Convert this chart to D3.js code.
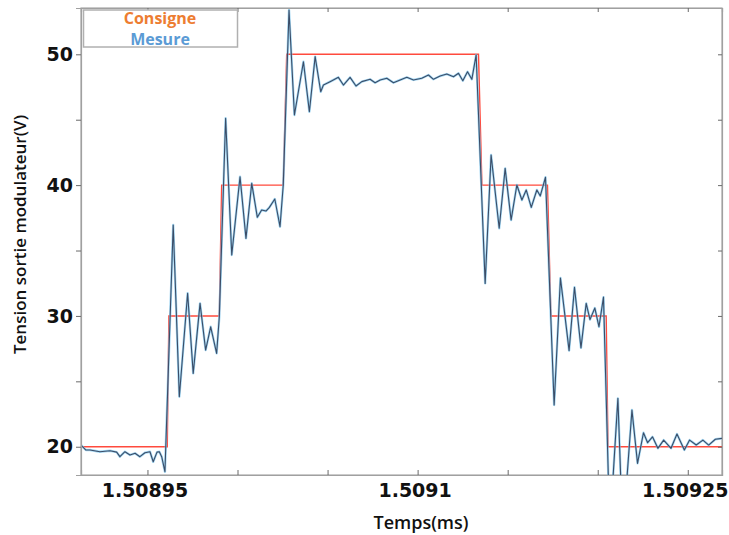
<!DOCTYPE html>
<html>
<head>
<meta charset="utf-8">
<script src="https://cdn.jsdelivr.net/npm/d3@7"></script>
<style>
  body { margin: 0; background: #fff; }
  svg { display: block; }
  .tick text { font-family: "DejaVu Sans", sans-serif; font-weight: bold; font-size: 19px; fill: #111; }
</style>
</head>
<body>
<div id="chart"></div>
<script>
// Consigne (setpoint) — step edges, time in ms
const consigneT = [1.5089131, 1.5089610, 1.5089619, 1.5089899, 1.5089912, 1.5090254, 1.5090273,
                   1.5091338, 1.5091357, 1.5091721, 1.5091740, 1.5092047, 1.5092057, 1.5092690];
const consigneV = [20, 20, 30, 30, 40, 40, 50, 50, 40, 40, 30, 30, 20, 20];

// Mesure (measured output)
const mesureT = [
  1.5089131, 1.5089158, 1.5089181, 1.5089236, 1.5089292, 1.5089329, 1.5089347, 1.5089375,
  1.5089403, 1.5089431, 1.5089458, 1.5089486, 1.5089514, 1.5089532, 1.5089553, 1.5089566,
  1.5089579, 1.5089597, 1.5089643, 1.5089677, 1.5089723, 1.5089754, 1.5089792, 1.5089823,
  1.5089851, 1.5089884, 1.5089899, 1.5089934, 1.5089968, 1.5090014, 1.5090047, 1.5090079,
  1.5090110, 1.5090134, 1.5090158, 1.5090177, 1.5090207, 1.5090236, 1.5090254, 1.5090286,
  1.5090316, 1.5090366, 1.5090399, 1.5090431, 1.5090462, 1.5090477, 1.5090514, 1.5090560,
  1.5090588, 1.5090625, 1.5090658, 1.5090690, 1.5090736, 1.5090764, 1.5090792, 1.5090829,
  1.5090866, 1.5090903, 1.5090940, 1.5090977, 1.5091023, 1.5091060, 1.5091088, 1.5091125,
  1.5091162, 1.5091199, 1.5091227, 1.5091251, 1.5091277, 1.5091301, 1.5091325, 1.5091375,
  1.5091408, 1.5091453, 1.5091486, 1.5091519, 1.5091551, 1.5091579, 1.5091603, 1.5091631,
  1.5091662, 1.5091681, 1.5091710, 1.5091758, 1.5091793, 1.5091841, 1.5091871, 1.5091907,
  1.5091936, 1.5091957, 1.5091984, 1.5092007, 1.5092032, 1.5092067, 1.5092112, 1.5092139,
  1.5092190, 1.5092221, 1.5092254, 1.5092277, 1.5092304, 1.5092334, 1.5092366, 1.5092407,
  1.5092440, 1.5092481, 1.5092510, 1.5092547, 1.5092584, 1.5092616, 1.5092653, 1.5092690
];
const mesureV = [
  20.13, 19.75, 19.75, 19.62, 19.69, 19.59, 19.24, 19.62,
  19.37, 19.50, 19.24, 19.54, 19.62, 18.85, 19.59, 19.62,
  19.24, 18.09, 36.95, 23.82, 31.73, 25.61, 30.96, 27.39,
  29.17, 27.14, 29.94, 45.11, 34.66, 40.64, 35.93, 40.14,
  37.54, 38.10, 38.02, 38.30, 38.94, 36.82, 40.01, 53.39,
  45.36, 49.43, 45.61, 49.82, 47.14, 47.65, 47.91, 48.24,
  47.65, 48.24, 47.58, 47.91, 48.09, 47.83, 48.04, 48.17,
  47.83, 48.04, 48.24, 48.04, 48.17, 48.42, 48.09, 48.34,
  48.49, 48.29, 48.55, 47.98, 48.67, 48.09, 49.95, 32.49,
  42.30, 36.70, 41.28, 37.33, 40.01, 38.86, 39.63, 38.30,
  39.63, 39.17, 40.60, 23.19, 32.90, 27.35, 32.19, 27.56,
  30.96, 29.72, 30.60, 29.17, 31.44, 13.60, 23.70, 13.25,
  22.81, 18.73, 21.07, 20.31, 20.76, 19.88, 20.51, 19.88,
  20.97, 19.75, 20.51, 20.13, 20.51, 20.13, 20.57, 20.64
];

const xTicks = [1.50895, 1.509, 1.50905, 1.5091, 1.50915, 1.5092, 1.50925];
const xTickLabels = { 1.50895: '1.50895', 1.5091: '1.5091', 1.50925: '1.50925' };
const yTicks = [20, 25, 30, 35, 40, 45, 50];
const yTickLabels = { 20: '20', 30: '30', 40: '40', 50: '50' };
const seriesNames = ['Consigne', 'Mesure'];
const seriesColors = ['#ed7d31', '#5b9bd5'];

const W = 729, H = 535;
const L = 81, R = 722, T = 8, B = 475;

const svg = d3.select('#chart').append('svg').attr('width', W).attr('height', H);

const x = d3.scaleLinear().domain([1.5089131, 1.5092690]).range([L, R]);
const y = d3.scaleLinear().domain([17.84, 53.54]).range([B, T]);

svg.append('defs').append('clipPath').attr('id', 'plot')
  .append('rect').attr('x', L).attr('y', T).attr('width', R - L).attr('height', B - T);

// frame
svg.append('rect').attr('x', L).attr('y', T).attr('width', R - L).attr('height', B - T)
  .attr('fill', '#fff').attr('stroke', '#a8a8a8').attr('stroke-width', 1.2);

const line = d3.line().x(d => x(d[0])).y(d => y(d[1]));
const consigne = consigneT.map((t, i) => [t, consigneV[i]]);
const mesure = mesureT.map((t, i) => [t, mesureV[i]]);

const plot = svg.append('g').attr('clip-path', 'url(#plot)');
plot.append('path').datum(consigne).attr('d', line)
  .attr('fill', 'none').attr('stroke', '#ff4a3d').attr('stroke-width', 1.4);
plot.append('path').datum(mesure).attr('d', line)
  .attr('fill', 'none').attr('stroke', '#7cc6ee').attr('stroke-width', 2.4).attr('opacity', 0.7)
  .attr('stroke-linejoin', 'round');
plot.append('path').datum(mesure).attr('d', line)
  .attr('fill', 'none').attr('stroke', '#3b4d68').attr('stroke-width', 1.1)
  .attr('stroke-linejoin', 'round');

// axes
const styleAxis = g => {
  g.select('.domain').attr('stroke', '#a0a0a0').attr('stroke-width', 1.2);
  g.selectAll('.tick line').attr('stroke', '#6a6a6a');
};

svg.append('g').attr('transform', `translate(0,${B})`)
  .call(d3.axisBottom(x).tickValues(xTicks).tickSize(-5).tickPadding(9)
    .tickFormat(d => xTickLabels[d] || ''))
  .call(styleAxis)
  .call(g => g.selectAll('.tick text').attr('dx', -3));
svg.append('g').attr('transform', `translate(0,${T})`)
  .call(d3.axisTop(x).tickValues(xTicks).tickSize(-4).tickFormat(''))
  .call(styleAxis);
svg.append('g').attr('transform', `translate(${L},0)`)
  .call(d3.axisLeft(y).tickValues(yTicks).tickSize(5).tickPadding(3)
    .tickFormat(d => yTickLabels[d] || ''))
  .call(styleAxis);
svg.append('g').attr('transform', `translate(${R},0)`)
  .call(d3.axisRight(y).tickValues(yTicks).tickSize(-4).tickFormat(''))
  .call(styleAxis);

// axis titles
svg.append('text')
  .attr('transform', `translate(26,${(T + B) / 2 - 7}) rotate(-90)`)
  .attr('text-anchor', 'middle')
  .attr('font-family', '"Open Sans", sans-serif').attr('font-size', 17).attr('font-weight', 600)
  .attr('fill', '#111').text('Tension sortie modulateur(V)');
svg.append('text')
  .attr('x', 421).attr('y', 529).attr('text-anchor', 'middle')
  .attr('font-family', '"Open Sans", sans-serif').attr('font-size', 18).attr('font-weight', 600)
  .attr('fill', '#111').text('Temps(ms)');

// legend
const leg = svg.append('g');
leg.append('rect').attr('x', 83.5).attr('y', 10).attr('width', 154).attr('height', 37)
  .attr('fill', '#fff').attr('stroke', '#b0b0b0').attr('stroke-width', 1.5);
seriesNames.forEach((name, i) => {
  leg.append('text').attr('x', 160).attr('y', 24 + i * 20.5).attr('text-anchor', 'middle')
    .attr('font-family', '"Open Sans", sans-serif').attr('font-size', 16).attr('font-weight', 'bold')
    .attr('fill', seriesColors[i]).text(name);
});
</script>
</body>
</html>
